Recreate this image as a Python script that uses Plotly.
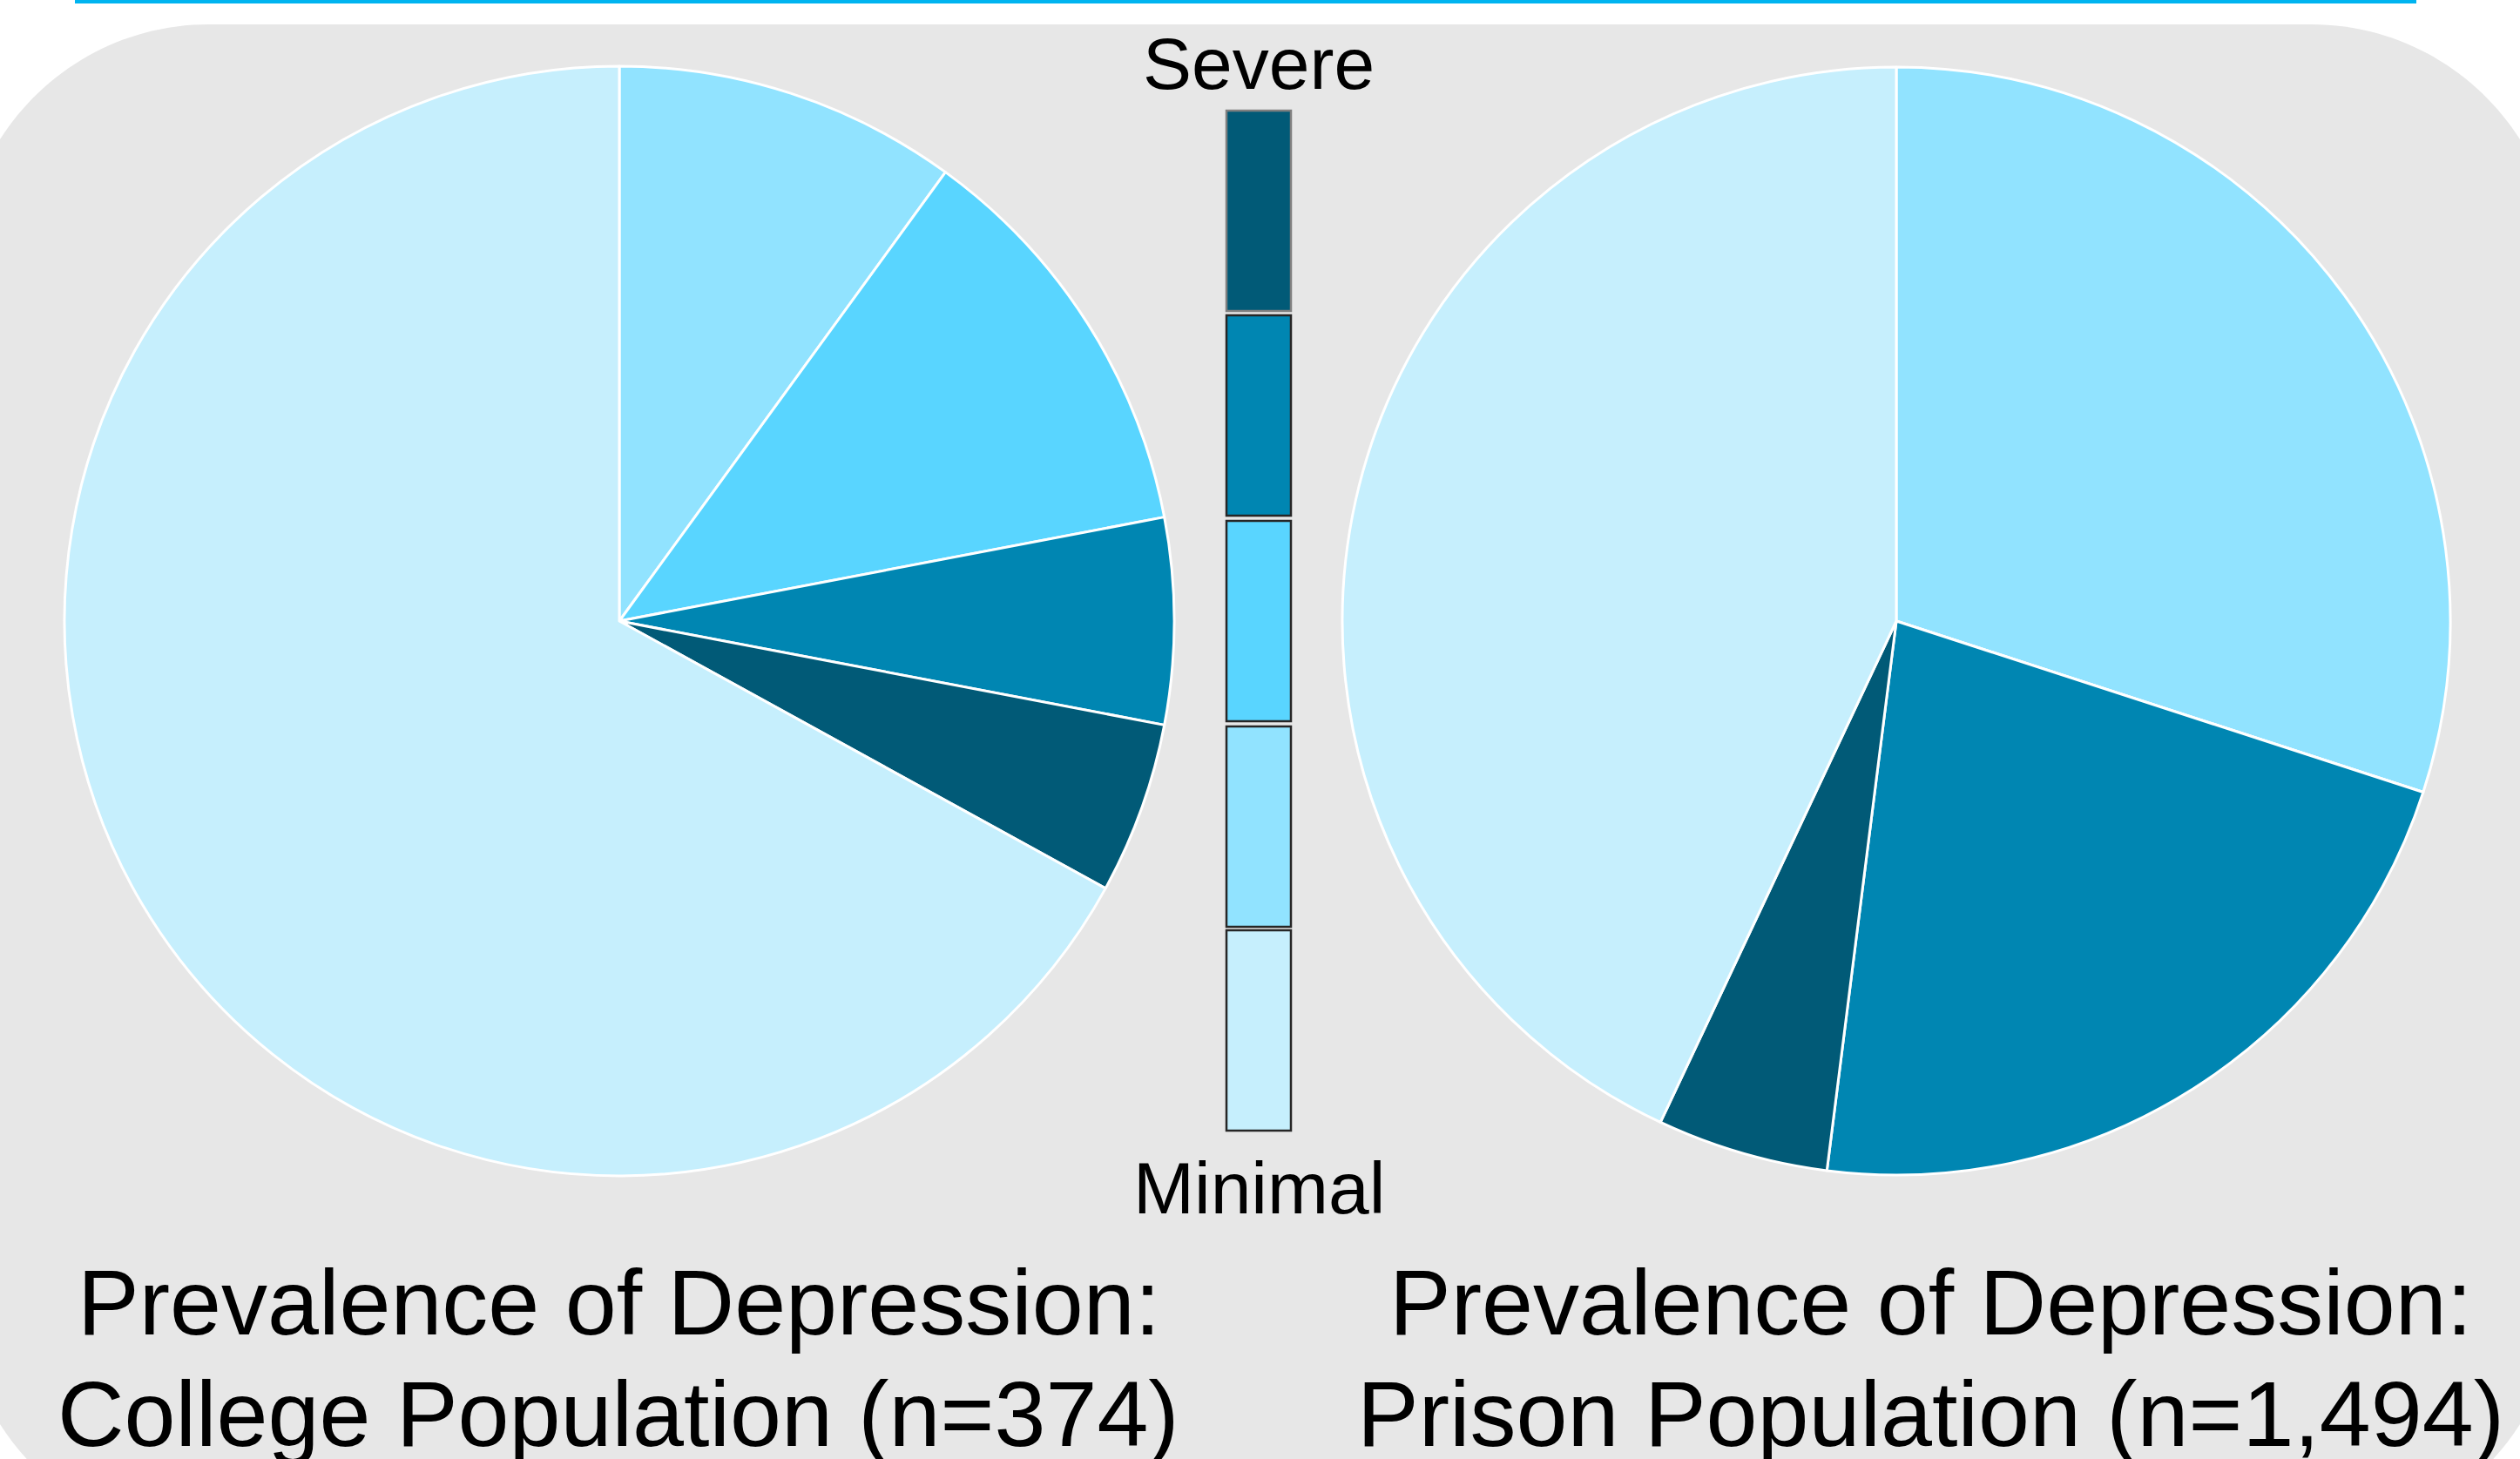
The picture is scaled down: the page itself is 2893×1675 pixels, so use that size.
import plotly.graph_objects as go

W, H = 2893, 1675

# ---- data ----
categories = ["Mild", "Moderate", "Moderately severe", "Severe", "Minimal"]
college_pct = [10, 12, 6, 5, 67]
prison_pct = [30, 0, 22, 5, 43]
slice_colors = ["#91E3FF", "#59D5FF", "#0086B2", "#015A77", "#C6EFFD"]

legend_levels = ["Severe", "Moderately severe", "Moderate", "Mild", "Minimal"]
legend_colors = ["#015A77", "#0086B2", "#59D5FF", "#91E3FF", "#C6EFFD"]
legend_top_label = "Severe"
legend_bottom_label = "Minimal"

title_college = ["Prevalence of Depression:", "College Population (n=374)"]
title_prison = ["Prevalence of Depression:", "Prison Population (n=1,494)"]

FONT = "Arial, 'Liberation Sans', sans-serif"


def px(x):
    return x / W


def py(y):
    return 1 - y / H


def pie_domain(cx, cy, r):
    return dict(x=[px(cx - r), px(cx + r)], y=[py(cy + r), py(cy - r)])


fig = go.Figure()
fig.add_trace(go.Pie(
    labels=categories, values=college_pct, sort=False, direction="clockwise",
    rotation=0, textinfo="none", hoverinfo="label+percent",
    marker=dict(colors=slice_colors, line=dict(color="white", width=3)),
    domain=pie_domain(711, 713, 637), showlegend=False,
))
fig.add_trace(go.Pie(
    labels=categories, values=prison_pct, sort=False, direction="clockwise",
    rotation=0, textinfo="none", hoverinfo="label+percent",
    marker=dict(colors=slice_colors, line=dict(color="white", width=3)),
    domain=pie_domain(2177, 713, 636), showlegend=False,
))

shapes = []
# rounded grey background panel
L, R, T, B, r = -44, 2937, 28, 1767, 284
k = 0.5523 * r


def P(x, y):
    return f"{px(x):.6f},{py(y):.6f}"


path = (
    f"M {P(L + r, T)} L {P(R - r, T)} "
    f"C {P(R - r + k, T)} {P(R, T + r - k)} {P(R, T + r)} "
    f"L {P(R, B - r)} "
    f"C {P(R, B - r + k)} {P(R - r + k, B)} {P(R - r, B)} "
    f"L {P(L + r, B)} "
    f"C {P(L + r - k, B)} {P(L, B - r + k)} {P(L, B - r)} "
    f"L {P(L, T + r)} "
    f"C {P(L, T + r - k)} {P(L + r - k, T)} {P(L + r, T)} Z"
)
shapes.append(dict(type="path", xref="paper", yref="paper", path=path,
                   fillcolor="#E7E7E7", line=dict(width=0), layer="below"))
# blue top rule
shapes.append(dict(type="rect", xref="paper", yref="paper",
                   x0=px(86), x1=px(2774), y0=py(4), y1=py(0),
                   fillcolor="#00B4F0", line=dict(width=0), layer="below"))

# legend boxes
box_tops = [127, 362, 598, 834, 1068]
box_h = 230
for i, (lvl, col) in enumerate(zip(legend_levels, legend_colors)):
    y0 = box_tops[i]
    shapes.append(dict(type="rect", xref="paper", yref="paper",
                       x0=px(1408), x1=px(1482), y0=py(y0 + box_h), y1=py(y0),
                       fillcolor=col,
                       line=dict(color="#7F7F7F" if i == 0 else "#262626", width=2.5),
                       layer="above"))

annotations = [
    dict(text=legend_top_label, x=px(1445), y=py(73), xref="paper", yref="paper",
         showarrow=False, xanchor="center", yanchor="middle",
         font=dict(family=FONT, size=84, color="black")),
    dict(text=legend_bottom_label, x=px(1445), y=py(1364), xref="paper", yref="paper",
         showarrow=False, xanchor="center", yanchor="middle",
         font=dict(family=FONT, size=84, color="black")),
]
for lines, cx in ((title_college, 710), (title_prison, 2216)):
    for line, cy in zip(lines, (1495, 1623)):
        annotations.append(dict(text=line, x=px(cx), y=py(cy), xref="paper", yref="paper",
                                showarrow=False, xanchor="center", yanchor="middle",
                                font=dict(family=FONT, size=106, color="black")))

fig.update_layout(
    width=W, height=H, margin=dict(l=0, r=0, t=0, b=0),
    paper_bgcolor="white", plot_bgcolor="white",
    shapes=shapes, annotations=annotations, showlegend=False,
)

fig.write_html("out.html", config={"displayModeBar": False},
               post_script="document.body.style.margin='0';document.body.style.overflow='hidden';")
